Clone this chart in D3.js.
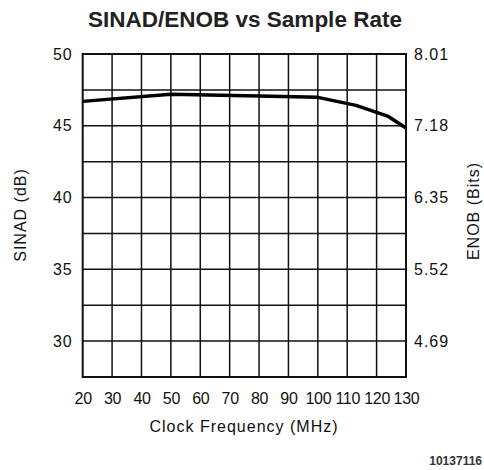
<!DOCTYPE html>
<html>
<head>
    <script src="https://cdn.jsdelivr.net/npm/d3@7"></script>
    <style>
        body { margin: 0; background: #fff; }
        .tick text { font-family: "Liberation Sans", Arial, sans-serif; font-size: 16px; letter-spacing: 1px; fill: #111; }
        .xax .tick text { font-size: 16px; letter-spacing: -0.3px; }
        .lbl { font-family: "Liberation Sans", Arial, sans-serif; font-size: 16px; letter-spacing: 1px; fill: #111; }
    </style>
</head>
<body>
    <svg id="svg" width="484" height="470"></svg>
    <script>
        // data
        var freq = [20, 50, 80, 100, 113, 124, 130];
        var sinad = [46.7, 47.2, 47.08, 46.98, 46.42, 45.65, 44.84];

        var xTicks = [20, 30, 40, 50, 60, 70, 80, 90, 100, 110, 120, 130];
        var sinadTicks = [30, 35, 40, 45, 50];
        var enobLabels = ["4.69", "5.52", "6.35", "7.18", "8.01"];
        var hGrid = [30, 32.5, 35, 37.5, 40, 42.5, 45, 47.5];

        var svg = d3.select("#svg");
        var mLeft = 82.7, mRight = 406, mTop = 54, mBottom = 377;

        var x = d3.scaleLinear().domain([20, 130]).range([mLeft, mRight]);
        var y = d3.scaleLinear().domain([27.5, 50]).range([mBottom, mTop]);

        svg.append("text")
            .attr("x", 245).attr("y", 27)
            .attr("text-anchor", "middle")
            .style("font", "bold 22.5px 'Liberation Sans', Arial, sans-serif")
            .style("fill", "#222")
            .text("SINAD/ENOB vs Sample Rate");

        // grid
        var grid = svg.append("g").attr("stroke", "#111").attr("stroke-width", 1.5);
        grid.selectAll(".v").data(xTicks.slice(1, -1)).enter().append("line")
            .attr("x1", function (d) { return x(d); }).attr("x2", function (d) { return x(d); })
            .attr("y1", mTop).attr("y2", mBottom);
        grid.selectAll(".h").data(hGrid).enter().append("line")
            .attr("y1", function (d) { return y(d); }).attr("y2", function (d) { return y(d); })
            .attr("x1", mLeft).attr("x2", mRight);
        svg.append("rect")
            .attr("x", mLeft).attr("y", mTop)
            .attr("width", mRight - mLeft).attr("height", mBottom - mTop)
            .attr("fill", "none").attr("stroke", "#111").attr("stroke-width", 2);

        // axes
        svg.append("g")
            .attr("class", "xax")
            .attr("transform", "translate(0," + mBottom + ")")
            .call(d3.axisBottom(x).tickValues(xTicks).tickSize(0).tickPadding(16))
            .call(function (g) { g.select(".domain").remove(); });
        svg.append("g")
            .attr("transform", "translate(" + mLeft + ",0)")
            .call(d3.axisLeft(y).tickValues(sinadTicks).tickSize(0).tickPadding(10))
            .call(function (g) { g.select(".domain").remove(); });
        svg.append("g")
            .attr("transform", "translate(" + mRight + ",0)")
            .call(d3.axisRight(y).tickValues(sinadTicks).tickSize(0).tickPadding(8)
                .tickFormat(function (d, i) { return enobLabels[i]; }))
            .call(function (g) { g.select(".domain").remove(); });

        // curve
        var line = d3.line()
            .x(function (d, i) { return x(freq[i]); })
            .y(function (d) { return y(d); });
        svg.append("path")
            .datum(sinad)
            .attr("d", line)
            .attr("fill", "none")
            .attr("stroke", "#000")
            .attr("stroke-width", 3.5)
            .attr("stroke-linejoin", "round");

        // axis titles
        svg.append("text").attr("class", "lbl")
            .attr("x", 244).attr("y", 432)
            .attr("text-anchor", "middle")
            .text("Clock Frequency (MHz)");
        svg.append("text").attr("class", "lbl")
            .attr("transform", "translate(26,215) rotate(-90)")
            .attr("text-anchor", "middle")
            .text("SINAD (dB)");
        svg.append("text").attr("class", "lbl")
            .attr("transform", "translate(479,211) rotate(-90)")
            .attr("text-anchor", "middle")
            .text("ENOB (Bits)");

        svg.append("text")
            .attr("x", 482).attr("y", 465)
            .attr("text-anchor", "end")
            .style("font", "bold 12px 'Liberation Sans', Arial, sans-serif")
            .style("fill", "#333")
            .text("10137116");
    </script>
</body>
</html>
